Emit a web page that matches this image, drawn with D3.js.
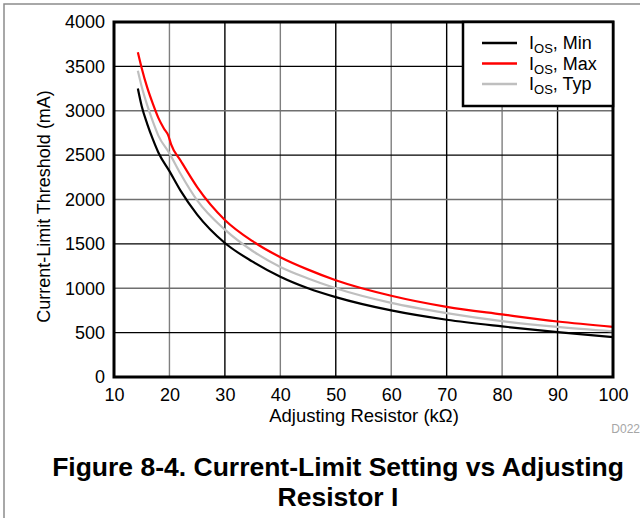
<!DOCTYPE html>
<html>
<head>
<meta charset="utf-8">
<script src="https://cdn.jsdelivr.net/npm/d3@7"></script>
<style>
  body { margin: 0; background: #fff; }
  text { font-family: "Liberation Sans", Arial, sans-serif; }
</style>
</head>
<body>
<div id="chart"></div>
<script>
// values
const resistorMin = [14.3, 15, 16, 17, 18, 20, 22, 25, 30, 35, 40, 45, 50, 60, 70, 80, 90, 100];
const currentMin = [3250, 3050, 2850, 2680, 2530, 2320, 2100, 1830, 1510, 1300, 1130, 1000, 900, 750, 645, 570, 505, 450];

const resistorTyp = [14.3, 15, 16, 17, 18, 20, 22, 25, 30, 35, 40, 45, 50, 60, 70, 80, 90, 100];
const currentTyp = [3450, 3270, 3060, 2880, 2720, 2520, 2290, 1990, 1660, 1420, 1240, 1110, 1000, 835, 720, 630, 565, 515];

const resistorMax = [14.3, 15, 16, 17, 18, 19, 19.8, 20.3, 22, 25, 30, 35, 40, 45, 50, 60, 70, 80, 90, 100];
const currentMax = [3660, 3480, 3260, 3080, 2920, 2800, 2720, 2620, 2440, 2140, 1770, 1530, 1350, 1210, 1090, 915, 790, 705, 625, 565];

const xTicks = [10, 20, 30, 40, 50, 60, 70, 80, 90, 100];
const yTicks = [0, 500, 1000, 1500, 2000, 2500, 3000, 3500, 4000];

const seriesNames = ['Min', 'Max', 'Typ'];
const seriesColors = ['#000000', '#ff0000', '#bfbfbf'];

const series = [
  { name: 'Min', x: resistorMin, y: currentMin },
  { name: 'Max', x: resistorMax, y: currentMax },
  { name: 'Typ', x: resistorTyp, y: currentTyp }
];
// draw order: typ under the others
const drawOrder = ['Typ', 'Min', 'Max'];

const width = 640;
const height = 518;
const margin = { top: 22, right: 27, bottom: 141, left: 114 };
const plotW = width - margin.left - margin.right;
const plotH = height - margin.top - margin.bottom;
const fontSize = 18;

const svg = d3.select('#chart').append('svg')
    .attr('width', width)
    .attr('height', height);

// outer figure frame
svg.append('path')
    .attr('d', `M4,${height} V4 H${width}`)
    .attr('fill', 'none')
    .attr('stroke', '#8c8c8c')
    .attr('stroke-width', 1.5);

const x = d3.scaleLinear().domain([10, 100]).range([0, plotW]);
const y = d3.scaleLinear().domain([0, 4000]).range([plotH, 0]);

const g = svg.append('g')
    .attr('transform', `translate(${margin.left}, ${margin.top})`);

// grid
g.append('g')
    .selectAll('line')
    .data(xTicks.slice(1, -1))
    .join('line')
    .attr('x1', d => x(d)).attr('x2', d => x(d))
    .attr('y1', 0).attr('y2', plotH)
    .attr('stroke', (d, i) => i % 2 === 0 ? '#7f7f7f' : '#000')
    .attr('stroke-width', 1.4);

g.append('g')
    .selectAll('line')
    .data(yTicks.slice(1, -1))
    .join('line')
    .attr('x1', 0).attr('x2', plotW)
    .attr('y1', d => y(d)).attr('y2', d => y(d))
    .attr('stroke', (d, i) => i % 2 === 0 ? '#000' : '#6f6f6f')
    .attr('stroke-width', 1.4);

// axes (labels only, frame drawn separately)
const xAxis = g.append('g')
    .attr('transform', `translate(0, ${plotH})`)
    .call(d3.axisBottom(x).tickValues(xTicks).tickFormat(d3.format('d')).tickSize(0).tickPadding(11));
const yAxis = g.append('g')
    .call(d3.axisLeft(y).tickValues(yTicks).tickFormat(d3.format('d')).tickSize(0).tickPadding(9));
[xAxis, yAxis].forEach(a => {
  a.select('.domain').remove();
  a.attr('font-size', fontSize).attr('font-family', null);
  a.selectAll('text').attr('fill', '#000');
});

// curves
const line = d3.line()
    .curve(d3.curveMonotoneX)
    .x(d => x(d[0]))
    .y(d => y(d[1]));

drawOrder.forEach(name => {
  const s = series.find(d => d.name === name);
  const color = seriesColors[seriesNames.indexOf(name)];
  g.append('path')
      .datum(d3.zip(s.x, s.y))
      .attr('fill', 'none')
      .attr('stroke', color)
      .attr('stroke-width', 2.2)
      .attr('d', line);
});

// plot frame
g.append('rect')
    .attr('width', plotW)
    .attr('height', plotH)
    .attr('fill', 'none')
    .attr('stroke', '#000')
    .attr('stroke-width', 3);

// legend
const legend = g.append('g')
    .attr('transform', `translate(${plotW - 150}, 0)`);
legend.append('rect')
    .attr('width', 150)
    .attr('height', 84)
    .attr('fill', '#fff')
    .attr('stroke', '#000')
    .attr('stroke-width', 2.5);

seriesNames.forEach((name, i) => {
  const row = legend.append('g')
      .attr('transform', `translate(0, ${21 + i * 20.5})`);
  row.append('line')
      .attr('x1', 19).attr('x2', 54)
      .attr('stroke', seriesColors[i])
      .attr('stroke-width', 2.4);
  const t = row.append('text')
      .attr('x', 66)
      .attr('y', 6)
      .attr('font-size', fontSize);
  t.append('tspan').text('I');
  t.append('tspan').attr('font-size', 13).attr('dy', 4).text('OS');
  t.append('tspan').attr('dy', -4).text(`, ${name}`);
});

// axis titles
svg.append('text')
    .attr('x', 364)
    .attr('y', 422)
    .attr('text-anchor', 'middle')
    .attr('font-size', 18.5)
    .text('Adjusting Resistor (kΩ)');

svg.append('text')
    .attr('transform', `translate(50, ${margin.top + plotH / 2 + 7}) rotate(-90)`)
    .attr('text-anchor', 'middle')
    .attr('font-size', fontSize)
    .text('Current-Limit Threshold (mA)');

svg.append('text')
    .attr('x', 640)
    .attr('y', 433)
    .attr('text-anchor', 'end')
    .attr('font-size', 12)
    .attr('fill', '#a6a6a6')
    .text('D022');

// caption
const caption = ['Figure 8-4. Current-Limit Setting vs Adjusting', 'Resistor I'];
caption.forEach((c, i) => {
  svg.append('text')
      .attr('x', 338)
      .attr('y', 476 + i * 30)
      .attr('text-anchor', 'middle')
      .attr('font-size', 26.5)
      .attr('font-weight', 'bold')
      .text(c);
});
</script>
</body>
</html>
